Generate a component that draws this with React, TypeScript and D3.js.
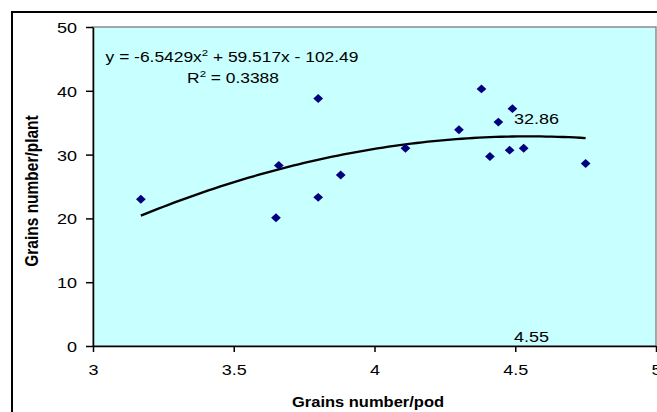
import { useEffect, useRef } from 'react';
import * as d3 from 'd3';

// grains number per pod (x) vs grains number per plant (y)
const grainsPerPod = [3.17, 3.65, 3.66, 3.8, 3.8, 3.88, 4.11, 4.3, 4.38, 4.41, 4.44, 4.48, 4.49, 4.53, 4.75];
const grainsPerPlant = [23.0, 20.1, 28.3, 38.8, 23.3, 26.8, 31.0, 33.9, 40.3, 29.7, 35.1, 30.7, 37.2, 31.0, 28.6];

// polynomial trendline shown on the chart: a*x^2 + b*x + c
const trendCoef = [-6.5429, 59.517, -102.49];
const rSquared = '0.3388';

// vertex annotations
const peakX = ['4.55'];
const peakY = ['32.86'];

const xTicks = [3, 3.5, 4, 4.5, 5];
const yTicks = [0, 10, 20, 30, 40, 50];

const W = 657;
const H = 412;
const margin = { top: 27, right: 1, bottom: 66, left: 93 };
const FONT = 'Arial, "Liberation Sans", sans-serif';
const SX = 1.2; // source image is stretched horizontally

export default function App() {
  const ref = useRef<SVGSVGElement>(null);

  useEffect(() => {
    if (!ref.current) return;
    const svg = d3.select(ref.current);
    svg.selectAll('*').remove();

    const x = d3.scaleLinear().domain([3, 5]).range([margin.left, W - margin.right]);
    const y = d3.scaleLinear().domain([0, 50]).range([H - margin.bottom, margin.top]);

    // outer chart frame
    svg
      .append('path')
      .attr('d', `M12,${H} L12,12 L${W},12`)
      .attr('fill', 'none')
      .attr('stroke', '#000')
      .attr('stroke-width', 2);

    // plot area
    svg
      .append('rect')
      .attr('x', x(3))
      .attr('y', y(50))
      .attr('width', x(5) - x(3))
      .attr('height', y(0) - y(50))
      .attr('fill', '#c8ffff')
      .attr('stroke', '#8c8c8c')
      .attr('stroke-width', 1.5);

    // y axis
    const yAxis = svg
      .append('g')
      .attr('transform', `translate(${x(3)},0)`)
      .call(d3.axisLeft(y).tickValues(yTicks).tickSize(7).tickSizeOuter(0));
    yAxis.select('.domain').attr('stroke', '#000').attr('stroke-width', 1.5);
    yAxis.selectAll('.tick line').attr('stroke', '#000').attr('stroke-width', 1.5);
    yAxis
      .selectAll('.tick text')
      .attr('x', -16 / SX)
      .attr('dy', '0.36em')
      .attr('transform', `scale(${SX},1)`)
      .style('font-family', FONT)
      .style('font-size', '15px')
      .attr('fill', '#000');

    // x axis
    const xAxis = svg
      .append('g')
      .attr('transform', `translate(0,${y(0)})`)
      .call(d3.axisBottom(x).tickValues(xTicks).tickFormat(d3.format('')).tickSize(6).tickSizeOuter(0));
    xAxis.select('.domain').attr('stroke', '#000').attr('stroke-width', 1.5);
    xAxis.selectAll('.tick line').attr('stroke', '#000').attr('stroke-width', 1.5);
    xAxis
      .selectAll('.tick text')
      .attr('y', 29)
      .attr('dy', 0)
      .attr('transform', `scale(${SX},1)`)
      .style('font-family', FONT)
      .style('font-size', '15px')
      .attr('fill', '#000');

    // trendline
    const [a, b, c] = trendCoef;
    const xs = d3.range(d3.min(grainsPerPod)!, d3.max(grainsPerPod)! + 0.001, 0.02);
    const line = d3
      .line<number>()
      .x(d => x(d))
      .y(d => y(a * d * d + b * d + c));
    svg
      .append('path')
      .datum(xs)
      .attr('d', line)
      .attr('fill', 'none')
      .attr('stroke', '#000')
      .attr('stroke-width', 2.3);

    // points
    const diamond = d3.symbol().type(d3.symbolDiamond2).size(50);
    svg
      .append('g')
      .selectAll('path')
      .data(grainsPerPod)
      .join('path')
      .attr('d', diamond)
      .attr('transform', (d, i) => `translate(${x(d)},${y(grainsPerPlant[i])}) scale(1.1,1)`)
      .attr('fill', '#000080');

    const label = (tx: number, ty: number, anchor: string, size: number, weight = 'normal', sx = SX) =>
      svg
        .append('text')
        .attr('transform', `translate(${tx},${ty}) scale(${sx},1)`)
        .attr('text-anchor', anchor)
        .style('font-family', FONT)
        .style('font-size', `${size}px`)
        .style('font-weight', weight)
        .attr('fill', '#000');

    // equation
    const eq = label(232, 62, 'middle', 14.5);
    eq.append('tspan').text(`y = ${trendCoef[0]}x`);
    eq.append('tspan').attr('dy', -6).style('font-size', '9.5px').text('2');
    eq.append('tspan').attr('dy', 6).text(` + ${trendCoef[1]}x - ${Math.abs(trendCoef[2])}`);

    const r2 = label(233, 83, 'middle', 14.5);
    r2.append('tspan').text('R');
    r2.append('tspan').attr('dy', -6).style('font-size', '9.5px').text('2');
    r2.append('tspan').attr('dy', 6).text(` = ${rSquared}`);

    // vertex labels
    label(514, 124, 'start', 15).text(peakY[0]);
    label(514, 342, 'start', 15).text(peakX[0]);

    // axis titles
    label(368, 407, 'middle', 15, 'bold', 1.1).text('Grains number/pod');
    svg
      .append('text')
      .attr('transform', `translate(38,191) scale(1.15,1) rotate(-90)`)
      .attr('text-anchor', 'middle')
      .style('font-family', FONT)
      .style('font-size', '15.5px')
      .style('font-weight', 'bold')
      .attr('fill', '#000')
      .text('Grains number/plant');
  }, []);

  return (
    <svg
      ref={ref}
      width={W}
      height={H}
      style={{ position: 'absolute', left: 0, top: 0, background: '#fff' }}
    />
  );
}
